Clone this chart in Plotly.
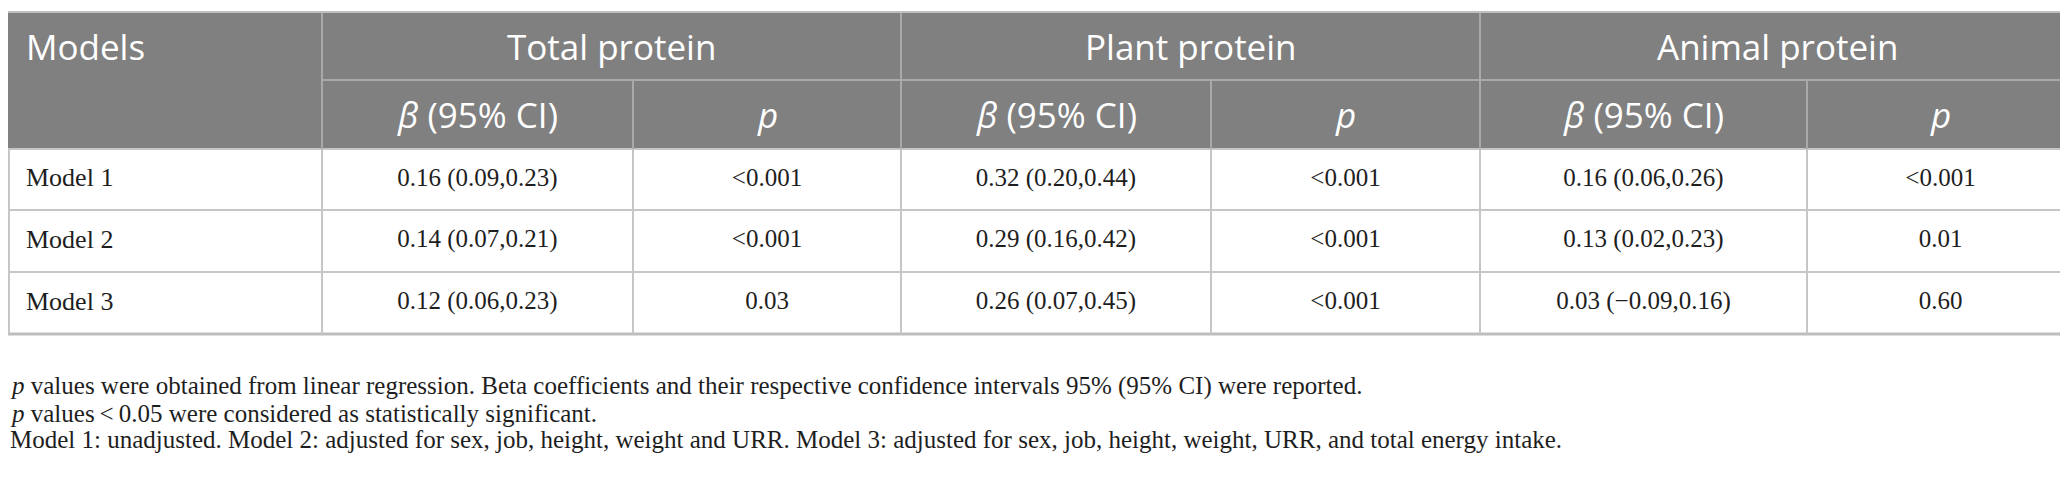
import plotly.graph_objects as go

models = ["Model 1", "Model 2", "Model 3"]
groups = ["Total protein", "Plant protein", "Animal protein"]

total_beta = ["0.16 (0.09,0.23)", "0.14 (0.07,0.21)", "0.12 (0.06,0.23)"]
total_p = ["<0.001", "<0.001", "0.03"]
plant_beta = ["0.32 (0.20,0.44)", "0.29 (0.16,0.42)", "0.26 (0.07,0.45)"]
plant_p = ["<0.001", "<0.001", "<0.001"]
animal_beta = ["0.16 (0.06,0.26)", "0.13 (0.02,0.23)", "0.03 (\u22120.09,0.16)"]
animal_p = ["<0.001", "0.01", "0.60"]

sub_headers = ["<i>\u03b2</i> (95% CI)", "<i>p</i>"]

footnotes = [
    "<i>p</i> values were obtained from linear regression. Beta coefficients and their "
    "respective confidence intervals 95% (95% CI) were reported.",
    "<i>p</i> values\u2009<\u20090.05 were considered as statistically significant.",
    "Model 1: unadjusted. Model 2: adjusted for sex, job, height, weight and URR. "
    "Model 3: adjusted for sex, job, height, weight, URR, and total energy intake.",
]

# layout geometry (pixels)
W, H = 2068, 478
col_edges = [0, 314, 625, 893, 1203, 1472, 1799, 2066]
row_edges = [5, 72, 141, 202, 264, 326]
foot_y = [378, 405, 431]

HEAD_BG = "#808080"
HEAD_LINE = "#a9a9a9"
GRID = "#c6c6c6"
TEXT = "#1e1e1e"
SANS = "Open Sans"
SERIF = "Liberation Serif"

columns = [total_beta, total_p, plant_beta, plant_p, animal_beta, animal_p]

fig = go.Figure()
shapes = []

# header background
shapes.append(dict(type="rect", x0=col_edges[0], x1=col_edges[-1], y0=row_edges[0], y1=row_edges[2],
                   fillcolor=HEAD_BG, line_width=0, layer="below"))

# horizontal rules
shapes.append(dict(type="line", x0=0, x1=col_edges[-1], y0=row_edges[0] - 1, y1=row_edges[0] - 1,
                   line=dict(color="#c0c0c0", width=2)))
shapes.append(dict(type="line", x0=col_edges[1], x1=col_edges[-1], y0=row_edges[1], y1=row_edges[1],
                   line=dict(color=HEAD_LINE, width=2)))
for y in row_edges[2:5]:
    shapes.append(dict(type="line", x0=0, x1=col_edges[-1], y0=y, y1=y, line=dict(color=GRID, width=2)))
shapes.append(dict(type="line", x0=0, x1=col_edges[-1], y0=row_edges[5], y1=row_edges[5],
                   line=dict(color="#bdbdbd", width=3)))

# vertical rules
for i, x in enumerate(col_edges):
    full = i in (0, 1, 3, 5, 7)
    top = row_edges[0] if full else row_edges[1]
    if i in (0, 7):
        top = row_edges[2]
    xx = min(max(x, 1), W - 2)
    if top < row_edges[2]:
        shapes.append(dict(type="line", x0=xx, x1=xx, y0=top, y1=row_edges[2],
                           line=dict(color=HEAD_LINE, width=2)))
    shapes.append(dict(type="line", x0=xx, x1=xx, y0=row_edges[2], y1=row_edges[5],
                       line=dict(color=GRID, width=2)))

annotations = []


def note(x, y, text, anchor, font):
    annotations.append(dict(x=x, y=y, xref="x", yref="y", text=text, showarrow=False,
                            xanchor=anchor, yanchor="middle", font=font))


head_font = dict(family=SANS, size=35, color="white")
# header row 1
note(16, (row_edges[0] + row_edges[1]) / 2, "Models", "left", head_font)
for g, name in enumerate(groups):
    cx = (col_edges[1 + 2 * g] + col_edges[3 + 2 * g]) / 2
    note(cx, (row_edges[0] + row_edges[1]) / 2, name, "center", head_font)
# header row 2
for c in range(6):
    cx = (col_edges[1 + c] + col_edges[2 + c]) / 2
    note(cx, (row_edges[1] + row_edges[2]) / 2, sub_headers[c % 2], "center", head_font)

# footnotes
for line, fy in zip(footnotes, foot_y):
    note(0, fy, line, "left", dict(family=SERIF, size=25, color=TEXT))

row_mid = [(row_edges[2 + r] + row_edges[3 + r]) / 2 for r in range(3)]

fig.add_trace(go.Scatter(x=[18] * len(models), y=row_mid, text=models, mode="text",
                         textposition="middle right", textfont=dict(family=SERIF, size=26, color=TEXT),
                         hoverinfo="skip", showlegend=False))
for c, vals in enumerate(columns):
    cx = (col_edges[1 + c] + col_edges[2 + c]) / 2
    fig.add_trace(go.Scatter(x=[cx] * len(vals), y=row_mid, text=vals, mode="text",
                             textposition="middle center",
                             textfont=dict(family=SERIF, size=25, color=TEXT),
                             hoverinfo="skip", showlegend=False))

fig.update_layout(
    width=W, height=H,
    margin=dict(l=0, r=0, t=0, b=0),
    paper_bgcolor="white", plot_bgcolor="white",
    shapes=shapes, annotations=annotations,
    xaxis=dict(range=[0, W], visible=False, fixedrange=True),
    yaxis=dict(range=[H, 0], visible=False, fixedrange=True),
)

fig.write_html("out.html")
